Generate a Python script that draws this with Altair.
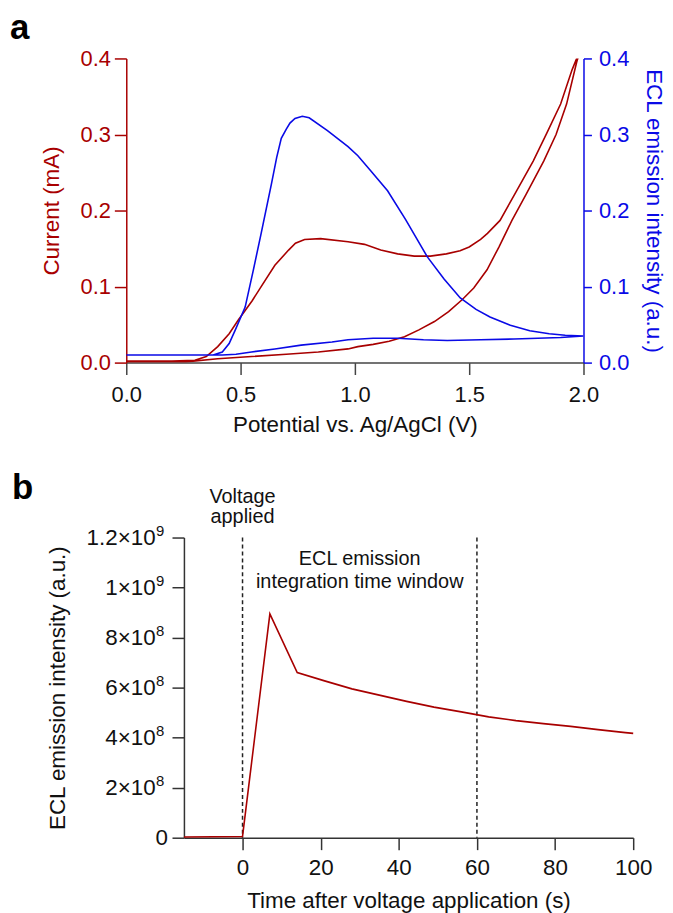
import altair as alt
import pandas as pd

RED = "#A80000"
BLUE = "#0A0AE6"
FONT = "'Liberation Sans', Arial, sans-serif"

# ---------- Panel a : cyclic voltammogram + ECL ----------
# current, forward sweep (V, mA)
cur_fwd_v = [0.0, 0.1, 0.2, 0.3, 0.35, 0.40, 0.45, 0.49, 0.55, 0.59, 0.65, 0.71, 0.74, 0.78, 0.85,
             0.97, 1.042, 1.113, 1.187, 1.26, 1.33, 1.40, 1.46, 1.50, 1.55, 1.58, 1.635, 1.70, 1.78,
             1.84, 1.90, 1.95, 1.97, 2.0]
cur_fwd_i = [0.002, 0.002, 0.002, 0.003, 0.008, 0.021, 0.038, 0.056, 0.081, 0.100, 0.128, 0.148,
             0.157, 0.162, 0.163, 0.159, 0.1555, 0.148, 0.143, 0.140, 0.140, 0.143, 0.147, 0.152,
             0.162, 0.170, 0.187, 0.222, 0.265, 0.302, 0.340, 0.385, 0.400, 0.43]
# current, reverse sweep
cur_rev_v = [2.0, 1.97, 1.926, 1.88, 1.826, 1.75, 1.687, 1.63, 1.578, 1.52, 1.47, 1.41, 1.348,
             1.28, 1.217, 1.15, 1.08, 1.013, 0.97, 0.84, 0.70, 0.548, 0.40, 0.26, 0.1, 0.0]
cur_rev_i = [0.425, 0.395, 0.340, 0.300, 0.265, 0.222, 0.187, 0.152, 0.122, 0.098, 0.083, 0.067,
             0.054, 0.043, 0.034, 0.028, 0.024, 0.021, 0.018, 0.014, 0.011, 0.008, 0.005, 0.001,
             0.001, 0.001]
# ECL, forward sweep
ecl_fwd_v = [0.0, 0.2, 0.38, 0.42, 0.45, 0.477, 0.52, 0.556, 0.59, 0.635, 0.658, 0.678, 0.70,
             0.716, 0.738, 0.77, 0.80, 0.88, 0.97, 1.013, 1.07, 1.143, 1.222, 1.317, 1.39, 1.461,
             1.53, 1.591, 1.68, 1.765, 1.85, 1.92, 2.0]
ecl_fwd_e = [0.010, 0.010, 0.010, 0.014, 0.025, 0.043, 0.073, 0.122, 0.170, 0.235, 0.270, 0.295,
             0.307, 0.315, 0.321, 0.324, 0.322, 0.305, 0.284, 0.272, 0.252, 0.226, 0.188, 0.139,
             0.110, 0.085, 0.070, 0.060, 0.049, 0.042, 0.038, 0.036, 0.035]
# ECL, reverse sweep
ecl_rev_v = [2.0, 1.90, 1.80, 1.696, 1.55, 1.404, 1.30, 1.187, 1.08, 0.97, 0.90, 0.765, 0.65,
             0.548, 0.48, 0.42, 0.3, 0.0]
ecl_rev_e = [0.035, 0.033, 0.032, 0.031, 0.030, 0.029, 0.030, 0.032, 0.032, 0.030, 0.027, 0.023,
             0.018, 0.014, 0.011, 0.010, 0.010, 0.010]

x_ticks_a = [0.0, 0.5, 1.0, 1.5, 2.0]
y_ticks_a = [0.0, 0.1, 0.2, 0.3, 0.4]

# ---------- Panel b : ECL vs time ----------
time_s = [-15, 0, 7, 14, 21, 28, 35, 42, 49, 56, 63, 70, 77, 84, 91, 98, 100]
ecl_b = [3e6, 5e6, 8.95e8, 6.6e8, 6.27e8, 5.95e8, 5.7e8, 5.45e8, 5.22e8, 5.03e8, 4.83e8,
         4.68e8, 4.56e8, 4.45e8, 4.32e8, 4.2e8, 4.17e8]
x_ticks_b = [0, 20, 40, 60, 80, 100]
y_ticks_b = [0, 2e8, 4e8, 6e8, 8e8, 1e9, 1.2e9]
marker_times = [0, 60]

cur_df = pd.DataFrame({
    "V": cur_fwd_v + cur_rev_v,
    "I": cur_fwd_i + cur_rev_i,
    "o": list(range(len(cur_fwd_v) + len(cur_rev_v))),
})
ecl_df = pd.DataFrame({
    "V": ecl_fwd_v + ecl_rev_v,
    "E": ecl_fwd_e + ecl_rev_e,
    "o": list(range(len(ecl_fwd_v) + len(ecl_rev_v))),
})

FA_L, FA_T = 22, 22.5     # panel a label / title font sizes
FB_L, FB_T = 22.5, 22.5   # panel b label / title font sizes

WA, HA = 460, 306
xa = alt.X("V:Q", scale=alt.Scale(domain=[0, 2], nice=False),
           axis=alt.Axis(values=x_ticks_a, format=".1f", title="Potential vs. Ag/AgCl (V)",
                         tickSize=12, labelPadding=10, titlePadding=8,
                         labelFontSize=FA_L, titleFontSize=FA_T,
                         domainColor="#444", tickColor="#444", labelColor="#111",
                         titleColor="#111"))

red_line = alt.Chart(cur_df).mark_line(color=RED, strokeWidth=1.6, clip=True).encode(
    x=xa,
    y=alt.Y("I:Q", scale=alt.Scale(domain=[0, 0.4], nice=False),
            axis=alt.Axis(orient="left", values=y_ticks_a, format=".1f", title="Current (mA)",
                          titleColor=RED, labelColor=RED, domainColor=RED, tickColor=RED,
                          labelFontSize=FA_L, titleFontSize=FA_T,
                          tickSize=12, labelPadding=4, titlePadding=17)),
    order="o:Q",
)
blue_line = alt.Chart(ecl_df).mark_line(color=BLUE, strokeWidth=1.6, clip=True).encode(
    x=alt.X("V:Q", scale=alt.Scale(domain=[0, 2], nice=False)),
    y=alt.Y("E:Q", scale=alt.Scale(domain=[0, 0.4], nice=False),
            axis=alt.Axis(orient="right", values=y_ticks_a, format=".1f",
                          title="ECL emission intensity (a.u.)",
                          titleColor=BLUE, labelColor=BLUE, domainColor=BLUE, tickColor=BLUE,
                          labelFontSize=FA_L, titleFontSize=FA_T,
                          tickSize=8, labelPadding=7, titlePadding=13)),
    order="o:Q",
)
letter_a = alt.Chart(pd.DataFrame({"k": [0]})).mark_text(
    text="a", fontSize=35, fontWeight="bold", align="left", baseline="alphabetic",
    color="black").encode(x=alt.value(-117), y=alt.value(-20))

panel_a = alt.layer(red_line, blue_line, letter_a).resolve_scale(y="independent").properties(
    width=WA, height=HA)

# panel b : its plot area starts SHIFT px to the right of panel a's
SHIFT = 58
WB, HB = 452, 302
b_df = pd.DataFrame({"t": time_s, "y": ecl_b})
label_expr = ("datum.value == 0 ? '0' : (datum.value >= 1e9 ? "
              "format(datum.value / 1e9, '~g') : format(datum.value / 1e8, '~g')) + '×10'")
xb_scale = alt.Scale(domain=[-15, 100], nice=False, range=[SHIFT, SHIFT + WB])
yb_scale = alt.Scale(domain=[0, 1.2e9], nice=False)
b_line = alt.Chart(b_df).mark_line(color=RED, strokeWidth=1.6).encode(
    x=alt.X("t:Q", scale=xb_scale,
            axis=alt.Axis(values=x_ticks_b, title="Time after voltage application (s)",
                          labelFontSize=FB_L, titleFontSize=FB_T,
                          tickSize=12, labelPadding=7, titlePadding=11)),
    y=alt.Y("y:Q", scale=yb_scale,
            axis=alt.Axis(values=y_ticks_b, labelExpr=label_expr, offset=-SHIFT,
                          labelAlign={"condition": {"test": "datum.value == 0", "value": "left"},
                                      "value": "right"},
                          labelFontSize=FB_L, titleFontSize=FB_T,
                          title="ECL emission intensity (a.u.)",
                          tickSize=12, labelPadding=17, titlePadding=17)),
)
exponents = alt.Chart(pd.DataFrame({"v": y_ticks_b[1:]})).transform_calculate(
    ex="datum.v >= 1e9 ? '9' : '8'"
).mark_text(fontSize=15, align="left", baseline="middle", dy=-7, color="#111").encode(
    x=alt.value(SHIFT - 28), y=alt.Y("v:Q", scale=yb_scale), text="ex:N")
rules = alt.Chart(pd.DataFrame({"t": marker_times})).mark_rule(
    color="#222", strokeWidth=1.5, strokeDash=[4, 3]).encode(
    x=alt.X("t:Q", scale=xb_scale), y=alt.value(0), y2=alt.value(HB))
txt_voltage = alt.Chart(pd.DataFrame({"k": [0]})).mark_text(
    text=["Voltage", "applied"], fontSize=20, lineHeight=20, align="center",
    baseline="alphabetic", color="#111").encode(x=alt.datum(0), y=alt.value(-35))
txt_window = alt.Chart(pd.DataFrame({"k": [0]})).mark_text(
    text=["ECL emission", "integration time window"], fontSize=20, lineHeight=23.5,
    align="center", baseline="alphabetic", color="#111").encode(x=alt.datum(30), y=alt.value(27.5))
letter_b = alt.Chart(pd.DataFrame({"k": [0]})).mark_text(
    text="b", fontSize=35, fontWeight="bold", align="left", baseline="alphabetic",
    color="black").encode(x=alt.value(12 - 127), y=alt.value(-39))

panel_b = alt.layer(rules, b_line, exponents, txt_voltage, txt_window, letter_b).properties(
    width=SHIFT + WB, height=HB)

chart = alt.vconcat(panel_a, panel_b, spacing=35).properties(
    padding={"left": 2, "top": 0, "right": 0, "bottom": 0}
).configure(font=FONT).configure_view(stroke=None).configure_axis(
    grid=False, labelFontSize=22, titleFontSize=22.5, labelFont=FONT, titleFont=FONT,
    labelFlush=False, domainWidth=1.5, tickWidth=1.5, titleFontWeight="normal",
    labelColor="#111", titleColor="#111", domainColor="#333", tickColor="#333"
)

chart.save("out.html", embed_options={"renderer": "svg", "actions": False})
